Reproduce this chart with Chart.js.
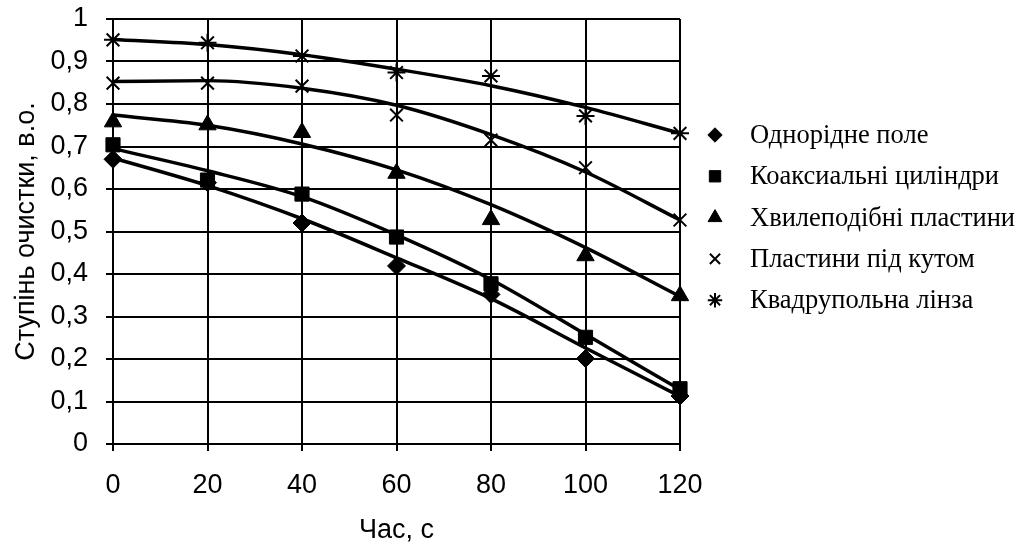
<!DOCTYPE html>
<html>
<head>
<meta charset="utf-8">
<script src="https://cdn.jsdelivr.net/npm/chart.js@4.4.0/dist/chart.umd.min.js"></script>
<style>
  html, body { margin: 0; padding: 0; background: #fff; }
</style>
</head>
<body>
<canvas id="myChart" width="1021" height="547"></canvas>
<script>
// time, s
var time = [0, 20, 40, 60, 80, 100, 120];

// measured points
var odnoridne = [0.670, 0.615, 0.520, 0.419, 0.352, 0.201, 0.113];
var koaksialni = [0.704, 0.621, 0.588, 0.487, 0.377, 0.251, 0.130];
var khvylepodibni = [0.758, 0.751, 0.733, 0.637, 0.528, 0.443, 0.349];
var pidKutom = [0.849, 0.849, 0.842, 0.774, 0.715, 0.650, 0.527];
var kvadrupolna = [0.951, 0.944, 0.913, 0.874, 0.866, 0.772, 0.731];

// trend curves
var odnoridneTrend = [0.673, 0.608, 0.530, 0.438, 0.342, 0.226, 0.112];
var koaksialniTrend = [0.695, 0.643, 0.582, 0.492, 0.387, 0.258, 0.128];
var khvylepodibniTrend = [0.774, 0.750, 0.706, 0.645, 0.563, 0.462, 0.347];
var pidKutomTrend = [0.853, 0.855, 0.837, 0.797, 0.728, 0.640, 0.527];
var kvadrupolnaTrend = [0.952, 0.940, 0.916, 0.882, 0.843, 0.792, 0.731];

var seriesNames = ["Однорідне поле", "Коаксиальні циліндри", "Хвилеподібні пластини", "Пластини під кутом", "Квадрупольна лінза"];
var yTickLabels = ["0", "0,1", "0,2", "0,3", "0,4", "0,5", "0,6", "0,7", "0,8", "0,9", "1"];

function pts(arr) {
    return arr.map(function (v, i) { return { x: time[i], y: v }; });
}

function markers(label, values, style, radius, bw) {
    return {
        label: label,
        data: pts(values),
        showLine: false,
        pointStyle: style,
        pointRadius: radius,
        pointBorderWidth: bw,
        backgroundColor: '#000',
        borderColor: '#000',
        clip: false,
    };
}

function trend(values) {
    return {
        label: '',
        data: pts(values),
        showLine: true,
        pointRadius: 0,
        borderWidth: 3.5,
        borderColor: '#000',
        cubicInterpolationMode: 'monotone',
        fill: false,
        clip: false,
    };
}

/*---------------LEGEND-------------------------- */
var sideLegend = {
    id: 'sideLegend',
    afterDraw: function (chart) {
        var ctx = chart.ctx;
        var x0 = chart.chartArea.right + 35;
        ctx.save();
        ctx.font = '26.5px "Liberation Serif"';
        ctx.textBaseline = 'middle';
        ctx.textAlign = 'left';
        seriesNames.forEach(function (name, i) {
            var ds = chart.data.datasets[i];
            var y = 135 + i * 41.3;
            ctx.fillStyle = '#000';
            ctx.strokeStyle = '#000';
            ctx.lineWidth = ds.pointBorderWidth;
            Chart.helpers.drawPoint(ctx, {
                pointStyle: ds.pointStyle,
                radius: ds.pointRadius * 0.8,
                borderWidth: ds.pointBorderWidth,
                rotation: 0
            }, x0, y);
            ctx.fillStyle = '#000';
            ctx.fillText(name, x0 + 35, y + 1);
        });
        ctx.restore();
    }
};

var ctx = document.getElementById('myChart').getContext('2d');
var chart = new Chart(ctx, {
    type: 'scatter',
    data: {
        datasets: [
            markers(seriesNames[0], odnoridne, 'rectRot', 9, 1),
            markers(seriesNames[1], koaksialni, 'rect', 10, 1),
            markers(seriesNames[2], khvylepodibni, 'triangle', 10, 1),
            markers(seriesNames[3], pidKutom, 'crossRot', 9, 2),
            markers(seriesNames[4], kvadrupolna, 'star', 9, 2),
            trend(odnoridneTrend),
            trend(koaksialniTrend),
            trend(khvylepodibniTrend),
            trend(pidKutomTrend),
            trend(kvadrupolnaTrend),
        ]
    },
    options: {
        responsive: false,
        animation: false,
        layout: { padding: { top: 19, right: 341, bottom: 0, left: 0 } },
        plugins: {
            legend: { display: false },
            tooltip: { enabled: false },
        },
        scales: {
            x: {
                type: 'linear',
                min: 0,
                max: 120,
                afterFit: function (scale) { scale.height = 103; },
                ticks: {
                    stepSize: 20,
                    color: '#000',
                    padding: 18,
                    font: { family: 'Liberation Sans', size: 27 },
                },
                grid: { color: '#000', lineWidth: 2, tickLength: 7, tickColor: '#000' },
                border: { color: '#000', width: 2 },
                title: {
                    display: true,
                    text: 'Час, с',
                    color: '#000',
                    font: { family: 'Liberation Sans', size: 27 },
                    padding: { top: 4, bottom: 0 },
                },
            },
            y: {
                min: 0,
                max: 1,
                afterFit: function (scale) {
                    scale.width = 113;
                    scale.paddingTop = 0;
                    scale.paddingBottom = 0;
                },
                ticks: {
                    stepSize: 0.1,
                    color: '#000',
                    padding: 18,
                    font: { family: 'Liberation Sans', size: 27 },
                    callback: function (value, index) { return yTickLabels[index]; },
                },
                grid: { color: '#000', lineWidth: 2, tickLength: 7, tickColor: '#000' },
                border: { color: '#000', width: 2 },
                title: {
                    display: true,
                    text: 'Ступінь очистки, в.о.',
                    color: '#000',
                    font: { family: 'Liberation Sans', size: 27 },
                    padding: { top: 10, bottom: 4 },
                },
            },
        },
    },
    plugins: [sideLegend],
});
</script>
</body>
</html>
